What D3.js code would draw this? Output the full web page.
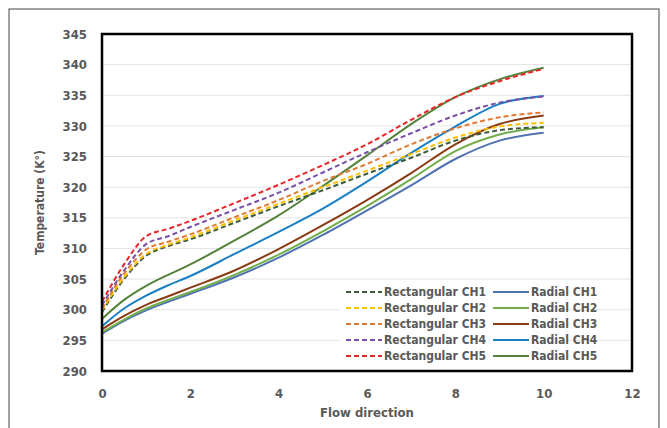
<!DOCTYPE html>
<html>
<head>
<meta charset="utf-8">
<script src="https://cdn.jsdelivr.net/npm/d3@7"></script>
<style>
  body { margin: 0; background: #fff; }
  text { font-family: "DejaVu Sans Condensed", "DejaVu Sans", sans-serif; font-stretch: condensed; }
</style>
</head>
<body>
<div id="chart"></div>
<script>
// x positions along the flow direction
var xs = [0, 0.5, 1, 1.5, 2, 3, 4, 5, 6, 7, 8, 9, 10];

// temperatures
var rectCH1 = [299.6, 305.0, 308.8, 310.4, 311.5, 314.2, 316.9, 319.5, 322.2, 324.8, 327.6, 329.3, 329.8];
var rectCH2 = [299.9, 305.3, 309.1, 310.6, 311.8, 314.6, 317.3, 320.0, 322.7, 325.4, 328.1, 329.9, 330.5];
var rectCH3 = [300.2, 305.9, 309.8, 311.1, 312.3, 315.1, 317.9, 321.0, 323.8, 327.0, 329.6, 331.4, 332.2];
var rectCH4 = [300.7, 306.4, 310.7, 312.0, 313.5, 316.3, 319.1, 322.4, 325.7, 328.8, 331.7, 333.8, 334.8];
var rectCH5 = [301.3, 307.4, 312.0, 313.2, 314.5, 317.4, 320.4, 323.6, 327.0, 331.0, 334.7, 337.3, 339.3];
var radCH1 = [296.1, 298.2, 299.9, 301.3, 302.6, 305.3, 308.5, 312.2, 316.2, 320.3, 324.6, 327.6, 328.9];
var radCH2 = [296.3, 298.4, 300.2, 301.6, 302.9, 305.7, 309.0, 312.8, 316.9, 321.3, 325.9, 328.6, 329.8];
var radCH3 = [296.8, 299.0, 300.8, 302.2, 303.6, 306.4, 309.9, 313.8, 317.9, 322.3, 327.0, 330.3, 331.7];
var radCH4 = [297.3, 300.2, 302.3, 304.0, 305.5, 309.1, 312.7, 316.5, 320.9, 325.6, 329.9, 333.6, 334.9];
var radCH5 = [298.5, 301.6, 303.9, 305.7, 307.4, 311.3, 315.4, 320.2, 325.2, 330.3, 334.7, 337.6, 339.5];

var xTicks = [0, 2, 4, 6, 8, 10, 12];
var yTicks = [290, 295, 300, 305, 310, 315, 320, 325, 330, 335, 340, 345];

var series = [
  {name: "Rectangular CH1", values: rectCH1, color: "#3d5c3a", dashed: true},
  {name: "Rectangular CH2", values: rectCH2, color: "#ffc000", dashed: true},
  {name: "Rectangular CH3", values: rectCH3, color: "#e07b35", dashed: true},
  {name: "Rectangular CH4", values: rectCH4, color: "#7a4fa8", dashed: true},
  {name: "Rectangular CH5", values: rectCH5, color: "#e8262a", dashed: true},
  {name: "Radial CH1", values: radCH1, color: "#4f73b0", dashed: false},
  {name: "Radial CH2", values: radCH2, color: "#72ad4a", dashed: false},
  {name: "Radial CH3", values: radCH3, color: "#8a3a12", dashed: false},
  {name: "Radial CH4", values: radCH4, color: "#1a7fc4", dashed: false},
  {name: "Radial CH5", values: radCH5, color: "#55823a", dashed: false}
];

var W = 667, H = 428;
var margin = {top: 34, right: 35, bottom: 57, left: 102},
    width = W - margin.left - margin.right,
    height = H - margin.top - margin.bottom;

var svgRoot = d3.select("#chart")
  .append("svg")
    .attr("width", W)
    .attr("height", H);

// outer chart border
svgRoot.append("rect")
  .attr("x", 9).attr("y", 9)
  .attr("width", 650).attr("height", 430)
  .attr("fill", "none")
  .attr("stroke", "#444")
  .attr("stroke-width", 1);

var svg = svgRoot.append("g")
  .attr("transform", "translate(" + margin.left + "," + margin.top + ")");

var x = d3.scaleLinear().domain([0, 12]).range([0, width]);
var y = d3.scaleLinear().domain([290, 345]).range([height, 0]);

// gridlines
svg.append("g")
  .selectAll("line")
  .data(yTicks)
  .enter().append("line")
    .attr("x1", 0).attr("x2", width)
    .attr("y1", function(d) { return y(d); })
    .attr("y2", function(d) { return y(d); })
    .attr("stroke", "#e3e3e3")
    .attr("stroke-width", 1);

// Y axis labels
var yAxis = svg.append("g")
  .attr("transform", "translate(-12,0)")
  .call(d3.axisLeft(y).tickValues(yTicks).tickSize(0).tickFormat(d3.format("d")));
yAxis.select(".domain").remove();
yAxis.selectAll("text")
  .attr("fill", "#595959")
  .style("font-size", "13px")
  .style("font-weight", "bold");

// X axis labels
var xAxis = svg.append("g")
  .attr("transform", "translate(0," + (height + 15) + ")")
  .call(d3.axisBottom(x).tickValues(xTicks).tickSize(0).tickFormat(d3.format("d")));
xAxis.select(".domain").remove();
xAxis.selectAll("text")
  .attr("fill", "#595959")
  .style("font-size", "13px")
  .style("font-weight", "bold");

// axis titles
svg.append("text")
  .attr("x", width / 2)
  .attr("y", height + 46)
  .attr("text-anchor", "middle")
  .attr("fill", "#595959")
  .style("font-size", "13px")
  .style("font-weight", "bold")
  .text("Flow direction");

svg.append("text")
  .attr("transform", "translate(-58," + (height / 2) + ") rotate(-90)")
  .attr("text-anchor", "middle")
  .attr("fill", "#595959")
  .style("font-size", "12px")
  .style("font-weight", "bold")
  .text("Temperature (K°)");

// lines
var line = d3.line()
  .x(function(d) { return x(d[0]); })
  .y(function(d) { return y(d[1]); })
  .curve(d3.curveMonotoneX);

// solid ones first, dashed on top like the picture
var drawOrder = series.slice(5).concat(series.slice(0, 5));
svg.selectAll(".series")
  .data(drawOrder)
  .enter().append("path")
    .attr("class", "series")
    .attr("fill", "none")
    .attr("stroke", function(d) { return d.color; })
    .attr("stroke-width", 2)
    .attr("stroke-dasharray", function(d) { return d.dashed ? "5,3" : null; })
    .attr("d", function(d) { return line(xs.map(function(v, i) { return [v, d.values[i]]; })); });

// legend
var legend = svg.append("g").attr("transform", "translate(238,249)");
legend.append("rect")
  .attr("x", 0).attr("y", 0)
  .attr("width", 220).attr("height", 84)
  .attr("fill", "#fff");

var items = legend.selectAll(".item")
  .data(series)
  .enter().append("g")
    .attr("class", "item")
    .attr("transform", function(d, i) {
      var col = d.dashed ? 0 : 1;
      var row = i % 5;
      return "translate(" + (6 + col * 147) + "," + (9 + row * 16) + ")";
    });

items.append("line")
  .attr("x1", 0).attr("x2", 36)
  .attr("y1", 0).attr("y2", 0)
  .attr("stroke", function(d) { return d.color; })
  .attr("stroke-width", 2)
  .attr("stroke-dasharray", function(d) { return d.dashed ? "5,3" : null; });

items.append("text")
  .attr("x", 38)
  .attr("y", 0)
  .attr("dy", "0.35em")
  .attr("fill", "#595959")
  .style("font-size", "12px")
  .style("font-weight", "bold")
  .text(function(d) { return d.name; });

// plot frame
svg.append("rect")
  .attr("x", 0).attr("y", 0)
  .attr("width", width).attr("height", height)
  .attr("fill", "none")
  .attr("stroke", "#000")
  .attr("stroke-width", 2.5);
</script>
</body>
</html>
